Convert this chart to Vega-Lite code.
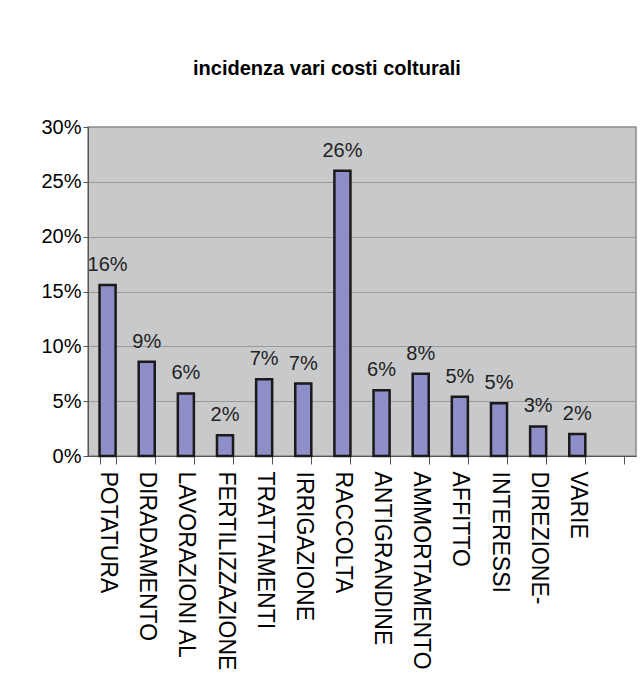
{
  "$schema": "https://vega.github.io/schema/vega-lite/v6.json",
  "width": 548,
  "height": 329,
  "autosize": {"type": "none"},
  "padding": {"left": 88, "top": 127, "right": 8, "bottom": 227},
  "background": "white",
  "title": {
    "text": "incidenza vari costi colturali",
    "font": "Liberation Sans",
    "fontSize": 20,
    "fontWeight": "bold",
    "color": "#000000",
    "anchor": "middle",
    "dx": -35,
    "offset": 38
  },
  "config": {
    "view": {"fill": "#C8C9CB", "stroke": "#8a8a8a", "strokeWidth": 1.5},
    "font": "Liberation Sans"
  },
  "data": {
    "values": [
      {"voce": "POTATURA", "valore": 0.156},
      {"voce": "DIRADAMENTO", "valore": 0.086},
      {"voce": "LAVORAZIONI AL", "valore": 0.057},
      {"voce": "FERTILIZZAZIONE", "valore": 0.019},
      {"voce": "TRATTAMENTI", "valore": 0.070},
      {"voce": "IRRIGAZIONE", "valore": 0.066},
      {"voce": "RACCOLTA", "valore": 0.260},
      {"voce": "ANTIGRANDINE", "valore": 0.060},
      {"voce": "AMMORTAMENTO", "valore": 0.075},
      {"voce": "AFFITTO", "valore": 0.054},
      {"voce": "INTERESSI", "valore": 0.048},
      {"voce": "DIREZIONE-", "valore": 0.027},
      {"voce": "VARIE", "valore": 0.020}
    ]
  },
  "encoding": {
    "x": {
      "field": "voce",
      "type": "nominal",
      "sort": null,
      "scale": {
        "domain": ["POTATURA", "DIRADAMENTO", "LAVORAZIONI AL", "FERTILIZZAZIONE", "TRATTAMENTI", "IRRIGAZIONE", "RACCOLTA", "ANTIGRANDINE", "AMMORTAMENTO", "AFFITTO", "INTERESSI", "DIREZIONE-", "VARIE", " "],
        "paddingInner": 0.59,
        "paddingOuter": 0.295
      },
      "axis": {
        "title": null,
        "labelAngle": 90,
        "labelAlign": "left",
        "labelBaseline": "middle",
        "labelFontSize": 23,
        "labelColor": "#000000",
        "labelPadding": 7,
        "tickBand": "extent",
        "tickSize": 8,
        "tickColor": "#555555",
        "domainColor": "#555555",
        "labelLimit": 300,
        "grid": false
      }
    },
    "y": {
      "field": "valore",
      "type": "quantitative",
      "scale": {"domain": [0, 0.3]},
      "axis": {
        "title": null,
        "format": ".0%",
        "values": [0, 0.05, 0.1, 0.15, 0.2, 0.25, 0.3],
        "labelFontSize": 20,
        "labelColor": "#000000",
        "labelPadding": 2,
        "tickSize": 5,
        "tickColor": "#555555",
        "domainColor": "#555555",
        "gridColor": "#9a9a9a",
        "gridWidth": 1
      }
    }
  },
  "layer": [
    {
      "mark": {"type": "bar", "fill": "#8E8EC8", "stroke": "#1a1a1a", "strokeWidth": 2.5}
    },
    {
      "mark": {"type": "text", "fontSize": 20, "color": "#222222", "baseline": "alphabetic", "dy": -14},
      "encoding": {"text": {"field": "valore", "type": "quantitative", "format": ".0%"}}
    }
  ]
}
